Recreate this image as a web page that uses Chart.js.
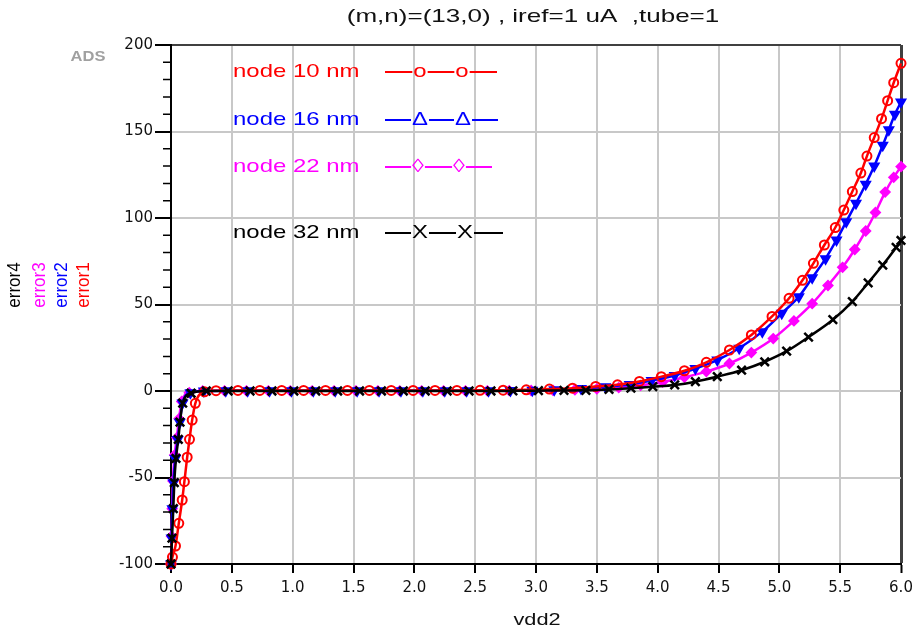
<!DOCTYPE html>
<html>
<head>
<meta charset="utf-8">
<script src="https://cdn.jsdelivr.net/npm/chart.js@4/dist/chart.umd.min.js"></script>
<style>
  html, body { margin: 0; padding: 0; background: #fff; }
  #wrap { width: 912px; height: 633px; }
</style>
</head>
<body>
<div id="wrap"><canvas id="chart" width="912" height="633"></canvas></div>
<script>
// values (vdd2 in V, error in %)
const xTickLabels = ['0.0', '0.5', '1.0', '1.5', '2.0', '2.5', '3.0', '3.5', '4.0', '4.5', '5.0', '5.5', '6.0'];
const yTickLabels = ['-100', '-50', '0', '50', '100', '150', '200'];
const seriesNames = ['node 10 nm', 'node 16 nm', 'node 22 nm', 'node 32 nm'];
const traceNames = ['error1', 'error2', 'error3', 'error4'];
const plotTitle = '(m,n)=(13,0) , iref=1 uA  ,tube=1';
const xTitle = 'vdd2';

// node 10 nm -> error1
const vdd1 = [0.00, 0.012, 0.037, 0.064, 0.092, 0.11, 0.133, 0.152, 0.174, 0.20,
  0.275, 0.37, 0.55, 0.73, 0.91, 1.09, 1.27, 1.45, 1.63, 1.81,
  1.99, 2.17, 2.35, 2.54, 2.73, 2.92, 3.11, 3.30, 3.49, 3.67,
  3.85, 4.03, 4.22, 4.40, 4.59, 4.77, 4.94, 5.08, 5.19, 5.28,
  5.37, 5.46, 5.53, 5.60, 5.67, 5.72, 5.78, 5.84, 5.89, 5.94,
  6.00];
const error1 = [-100, -96, -89.6, -76.5, -63, -52.4, -38.3, -27.9, -16.8, -7.1,
  -0.5, 0.2, 0.3, 0.3, 0.3, 0.3, 0.3, 0.3, 0.3, 0.3,
  0.3, 0.3, 0.3, 0.4, 0.5, 0.7, 1.1, 1.6, 2.6, 3.6,
  5.5, 8.3, 11.7, 16.6, 23.7, 32.4, 43.1, 53.6, 64.0, 73.8,
  84.4, 94.5, 104.6, 115.3, 126.0, 135.8, 146.5, 157.4, 167.8, 178.2,
  189.4];

// node 16 nm -> error2
const vdd2 = [0.00, 0.005, 0.012, 0.02, 0.035, 0.055, 0.072, 0.095, 0.16, 0.27,
  0.45, 0.63, 0.81, 0.99, 1.17, 1.35, 1.53, 1.71, 1.89, 2.07,
  2.25, 2.43, 2.61, 2.79, 2.97, 3.15, 3.37, 3.57, 3.77, 3.95,
  4.14, 4.31, 4.49, 4.67, 4.86, 5.02, 5.16, 5.27, 5.38, 5.47,
  5.55, 5.63, 5.71, 5.78, 5.85, 5.90, 5.95, 6.00];
const error2 = [-100, -85, -68, -53, -39, -28, -18, -7, -1, 0,
  0.2, 0.2, 0.2, 0.2, 0.2, 0.2, 0.2, 0.2, 0.2, 0.2,
  0.2, 0.2, 0.2, 0.3, 0.4, 0.7, 1.4, 2.5, 3.8, 6.0,
  9.0, 13.0, 17.9, 24.7, 34.3, 44.9, 54.5, 65.4, 76.5, 87.3,
  97.9, 108.5, 119.5, 130, 142, 151, 160, 167];

// node 22 nm -> error3
const vdd3 = [0.00, 0.004, 0.01, 0.016, 0.03, 0.048, 0.066, 0.088, 0.15, 0.26,
  0.44, 0.62, 0.80, 0.98, 1.16, 1.34, 1.52, 1.70, 1.88, 2.06,
  2.24, 2.42, 2.60, 2.78, 2.96, 3.14, 3.32, 3.50, 3.68, 3.86,
  4.04, 4.22, 4.40, 4.59, 4.77, 4.95, 5.12, 5.27, 5.40, 5.52,
  5.62, 5.71, 5.79, 5.87, 5.94, 6.00];
const error3 = [-100, -84, -68, -52, -37, -27, -16, -6, -1, 0,
  0.1, 0.1, 0.1, 0.1, 0.1, 0.1, 0.1, 0.1, 0.1, 0.1,
  0.1, 0.1, 0.1, 0.2, 0.3, 0.4, 0.7, 1.2, 2.0, 3.3,
  5.2, 7.9, 11.2, 15.9, 22.2, 30.3, 40.5, 50.5, 61.0, 71.5,
  81.8, 92.5, 103.2, 115.0, 123.5, 129.7];

// node 32 nm -> error4
const vdd4 = [0.00, 0.008, 0.019, 0.027, 0.041, 0.06, 0.074, 0.096, 0.165, 0.29,
  0.47, 0.65, 0.83, 1.01, 1.19, 1.37, 1.55, 1.73, 1.91, 2.09,
  2.27, 2.45, 2.63, 2.81, 3.02, 3.23, 3.41, 3.60, 3.78, 3.96,
  4.14, 4.31, 4.49, 4.69, 4.88, 5.06, 5.24, 5.44, 5.60, 5.73,
  5.85, 5.96, 6.00];
const error4 = [-100, -85, -68, -53, -39, -28, -18, -7, -1.3, 0,
  0, 0, 0, 0, 0, 0, 0, 0, 0, 0,
  0, 0, 0, 0.1, 0.2, 0.3, 0.4, 0.9, 1.6, 2.5,
  3.5, 5.4, 8.3, 12.0, 16.9, 23.0, 31.2, 41.2, 51.6, 62.5,
  72.8, 83.0, 87.0];

const RED = '#ff0000';
const BLUE = '#0000ff';
const MAGENTA = '#ff00ff';
const BLACK = '#000000';
const GRID = '#c8c8c8';
const FRAME = '#404040';

function points(xs, ys) {
  return xs.map((x, i) => ({ x: x, y: ys[i] }));
}

function stretchedText(ctx, txt, x, y, font, color, sx, align) {
  ctx.save();
  ctx.font = font;
  ctx.fillStyle = color;
  ctx.textBaseline = 'middle';
  ctx.textAlign = align || 'left';
  ctx.translate(x, y);
  ctx.scale(sx, 1);
  ctx.fillText(txt, 0, 0);
  ctx.restore();
}

// legend rows as ADS draws them: label, then a line with two glyph markers
const legendRows = [
  { color: RED, glyph: 'o', y: 72, marks: [420, 462], end: 497 },
  { color: BLUE, glyph: '\u0394', y: 120, marks: [420, 463], end: 498 },
  { color: MAGENTA, glyph: '\u25CA', y: 167, marks: [418, 459], end: 492 },
  { color: BLACK, glyph: 'X', y: 233, marks: [420, 465], end: 503 },
];

const decorations = {
  id: 'decorations',
  afterDraw(chart) {
    const ctx = chart.ctx;
    const ys = chart.scales.y;
    const area = chart.chartArea;

    // minor ticks on the y axis
    ctx.save();
    ctx.strokeStyle = BLACK;
    ctx.lineWidth = 1.5;
    ctx.beginPath();
    ys.ticks.forEach((t) => {
      if (yTickLabels.includes(String(t.value))) return;
      const py = ys.getPixelForValue(t.value);
      ctx.moveTo(area.left - 8, py);
      ctx.lineTo(area.left, py);
    });
    ctx.stroke();
    ctx.restore();

    const font = '19px "Liberation Sans", Arial, sans-serif';

    // title
    stretchedText(ctx, plotTitle, 533, 17, font, '#111', 1.37, 'center');

    // ADS watermark
    stretchedText(ctx, 'ADS', 88, 57, 'bold 14px "Liberation Sans", Arial, sans-serif', '#a0a0a0', 1.18, 'center');

    // x axis title
    stretchedText(ctx, xTitle, 537, 620, '17px "Liberation Sans", Arial, sans-serif', '#111', 1.28, 'center');

    // stacked y axis titles, rotated
    const yCols = [84, 62, 40, 15];
    const yColors = [RED, BLUE, MAGENTA, BLACK];
    traceNames.forEach((name, i) => {
      ctx.save();
      ctx.translate(yCols[i], 285);
      ctx.rotate(-Math.PI / 2);
      ctx.scale(1, 1.1);
      ctx.font = '17px "Liberation Sans", Arial, sans-serif';
      ctx.fillStyle = yColors[i];
      ctx.textAlign = 'center';
      ctx.textBaseline = 'middle';
      ctx.fillText(name, 0, 0);
      ctx.restore();
    });

    // legend
    legendRows.forEach((row, i) => {
      stretchedText(ctx, seriesNames[i], 233, row.y, font, row.color, 1.26, 'left');
      ctx.save();
      ctx.font = font;
      const hw = ctx.measureText(row.glyph).width * 1.26 / 2 + 1;
      ctx.strokeStyle = row.color;
      ctx.lineWidth = 2;
      ctx.beginPath();
      ctx.moveTo(385, row.y);
      ctx.lineTo(row.marks[0] - hw, row.y);
      ctx.moveTo(row.marks[0] + hw, row.y);
      ctx.lineTo(row.marks[1] - hw, row.y);
      ctx.moveTo(row.marks[1] + hw, row.y);
      ctx.lineTo(row.end, row.y);
      ctx.stroke();
      ctx.restore();
      row.marks.forEach((mx) => {
        stretchedText(ctx, row.glyph, mx, row.y, font, row.color, 1.26, 'center');
      });
    });
  },
};

function lineSet(label, xs, ys, color, style, extra) {
  return Object.assign({
    label: label,
    data: points(xs, ys),
    borderColor: color,
    backgroundColor: color,
    borderWidth: 2.5,
    pointStyle: style,
    pointBorderColor: color,
    pointBackgroundColor: color,
    pointBorderWidth: 2,
    pointRadius: 4.5,
    cubicInterpolationMode: 'monotone',
    fill: false,
    clip: false,
  }, extra || {});
}

new Chart(document.getElementById('chart'), {
  type: 'line',
  data: {
    datasets: [
      lineSet(traceNames[3], vdd4, error4, BLACK, 'crossRot', { pointRadius: 6, pointBorderWidth: 2.5, order: 0 }),
      lineSet(traceNames[0], vdd1, error1, RED, 'circle', { pointBackgroundColor: 'rgba(0,0,0,0)', pointRadius: 4.5, order: 1 }),
      lineSet(traceNames[1], vdd2, error2, BLUE, 'triangle', { pointRotation: 180, pointRadius: 5, order: 2 }),
      lineSet(traceNames[2], vdd3, error3, MAGENTA, 'rectRot', { pointRadius: 4.5, order: 3 }),
    ],
  },
  options: {
    responsive: false,
    animation: false,
    devicePixelRatio: 1,
    layout: { padding: { top: 45, right: 11, left: 0, bottom: 0 } },
    plugins: {
      legend: { display: false },
      tooltip: { enabled: false },
      title: { display: false },
    },
    scales: {
      x: {
        type: 'linear',
        min: 0,
        max: 6,
        afterFit(scale) {
          scale.height = 69;
          scale.paddingLeft = 0;
          scale.paddingRight = 0;
        },
        ticks: {
          stepSize: 0.5,
          autoSkip: false,
          maxRotation: 0,
          padding: 6,
          color: '#111',
          font: { family: '"DejaVu Sans", sans-serif', size: 15 },
          callback: (v, i) => xTickLabels[i],
        },
        grid: {
          color: (c) => (c.tick.value === 0 ? 'rgba(0,0,0,0)' : c.tick.value === 6 ? FRAME : GRID),
          lineWidth: (c) => (c.tick.value === 6 ? 3 : 2),
          tickColor: BLACK,
          tickWidth: 2,
          tickLength: 9,
        },
        border: { display: true, color: BLACK, width: 2 },
      },
      y: {
        type: 'linear',
        min: -100,
        max: 200,
        afterFit(scale) {
          scale.width = 171;
          scale.paddingTop = 0;
          scale.paddingBottom = 0;
        },
        ticks: {
          stepSize: 10,
          autoSkip: false,
          padding: 2,
          color: '#111',
          font: { family: '"DejaVu Sans", sans-serif', size: 15 },
          callback: (v) => (yTickLabels.includes(String(v)) ? String(v) : ''),
        },
        grid: {
          color: (c) => {
            const v = c.tick.value;
            if (v === 200) return FRAME;
            if (v === -100) return 'rgba(0,0,0,0)';
            return v % 50 === 0 ? GRID : 'rgba(0,0,0,0)';
          },
          lineWidth: 2,
          tickColor: (c) => (c.tick.value % 50 === 0 ? BLACK : 'rgba(0,0,0,0)'),
          tickWidth: 2,
          tickLength: 16,
        },
        border: { display: true, color: BLACK, width: 2 },
      },
    },
  },
  plugins: [decorations],
});
</script>
</body>
</html>
